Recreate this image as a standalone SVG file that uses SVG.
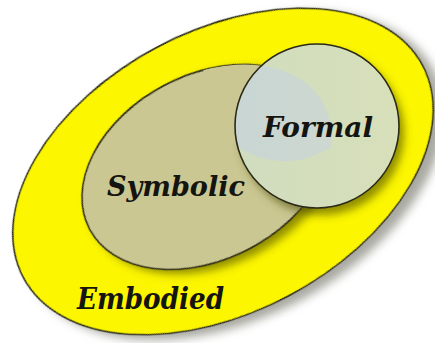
<svg xmlns="http://www.w3.org/2000/svg" width="435" height="343" viewBox="0 0 435 343">
  <defs>
    <filter id="outerShadow" x="-20%" y="-20%" width="140%" height="140%">
      <feDropShadow dx="7" dy="9" stdDeviation="5" flood-color="#7a7a70" flood-opacity="0.65"/>
    </filter>
    <filter id="innerShadow" x="-20%" y="-20%" width="140%" height="140%">
      <feDropShadow dx="5" dy="7" stdDeviation="4" flood-color="#4a4a00" flood-opacity="0.6"/>
    </filter>
    <linearGradient id="formalGrad" x1="0" y1="0" x2="1" y2="0">
      <stop offset="0" stop-color="#c8d8de"/>
      <stop offset="1" stop-color="#d2dcd8"/>
    </linearGradient>
    <clipPath id="fc"><circle cx="317" cy="126" r="82"/></clipPath>
  </defs>
  <style>
    .outline { stroke: #2b2a18; stroke-width: 1.6; }
    .label { font-family: "DejaVu Serif", "Liberation Serif", serif; font-style: italic; font-weight: bold; fill: #141410; }
  </style>
  <rect width="435" height="343" fill="#ffffff"/>
  <g id="embodied">
    <ellipse cx="223" cy="171.5" rx="226" ry="140.6" transform="rotate(-28 223 171.5)" fill="#fcf600" class="outline" filter="url(#outerShadow)"/>
  </g>
  <g id="symbolic">
    <ellipse cx="207" cy="167" rx="132.8" ry="92.1" transform="rotate(-28 207 167)" fill="#cbc792" class="outline" filter="url(#innerShadow)"/>
  </g>
  <g id="formal">
    <circle cx="317" cy="126" r="82" fill="#f8f8f4" filter="url(#innerShadow)"/>
    <circle cx="317" cy="126" r="82" fill="#fcf600"/>
    <ellipse cx="207" cy="167" rx="132.8" ry="92.1" transform="rotate(-28 207 167)" fill="#cbc792" clip-path="url(#fc)"/>
    <circle cx="317" cy="126" r="82" fill="url(#formalGrad)" fill-opacity="0.86" class="outline"/>
  </g>
  <g id="labels">
    <text class="label" x="263" y="137" font-size="27" textLength="110" lengthAdjust="spacingAndGlyphs">Formal</text>
    <text class="label" x="107" y="196" font-size="28" textLength="138" lengthAdjust="spacingAndGlyphs">Symbolic</text>
    <text class="label" x="77" y="309" font-size="29" textLength="147" lengthAdjust="spacingAndGlyphs">Embodied</text>
  </g>
</svg>
